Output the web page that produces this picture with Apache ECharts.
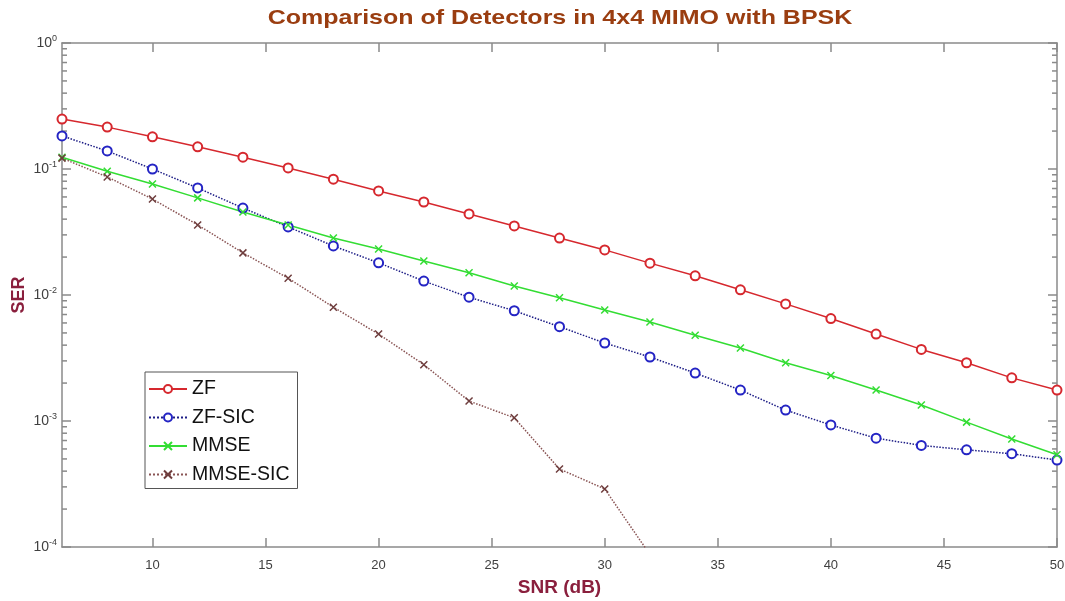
<!DOCTYPE html>
<html>
<head>
<meta charset="utf-8">
<title>Comparison of Detectors</title>
<script src="https://cdn.jsdelivr.net/npm/echarts@6/dist/echarts.min.js"></script>
<style>
    html, body { margin: 0; padding: 0; background: #fff; }
    #chart { width: 1065px; height: 601px; }
</style>
</head>
<body>
<div id="chart"></div>
<script>
// SNR (dB) points
const snr = [6, 8, 10, 12, 14, 16, 18, 20, 22, 24, 26, 28, 30, 32, 34, 36, 38, 40, 42, 44, 46, 48, 50];

// SER values
const zf = [0.249, 0.215, 0.18, 0.15, 0.124, 0.102, 0.083, 0.067, 0.0547, 0.044, 0.0353, 0.0283, 0.0228,
    0.0179, 0.0142, 0.011, 0.0085, 0.0065, 0.0049, 0.0037, 0.0029, 0.0022, 0.00176];
const zfSic = [0.183, 0.139, 0.1, 0.0707, 0.049, 0.0347, 0.0245, 0.018, 0.0129, 0.0096, 0.0075, 0.0056, 0.00416,
    0.00322, 0.0024, 0.00176, 0.00122, 0.00093, 0.00073, 0.00064, 0.00059, 0.00055, 0.00049];
const mmse = [0.124, 0.096, 0.076, 0.059, 0.0456, 0.036, 0.0283, 0.0232, 0.0186, 0.015, 0.0118, 0.0095, 0.0076,
    0.0061, 0.0048, 0.0038, 0.0029, 0.0023, 0.00176, 0.00134, 0.00098, 0.00072, 0.00054];
const mmseSic = [0.122, 0.0865, 0.0578, 0.036, 0.0216, 0.0136, 0.008, 0.0049, 0.0028, 0.00144, 0.00106, 0.000416,
    0.000289, 0.000087];

// axis ticks
const xTicks = [10, 15, 20, 25, 30, 35, 40, 45, 50];
const yTicks = [1e-4, 1e-3, 1e-2, 1e-1, 1];
const yMinorTicks = [];
[1e-4, 1e-3, 1e-2, 1e-1].forEach(function (d) {
    for (let k = 2; k <= 9; k++) yMinorTicks.push(d * k);
});

const FONT = "'Liberation Sans', Arial, Helvetica, sans-serif";
const AXIS_COLOR = "#8a8a8a";
const NAME_COLOR = "#8a1f3d";

function pairs(ys) {
    return ys.map(function (v, i) { return [snr[i], v]; });
}

const crossPath = "path://M0,0L10,10M10,0L0,10";

const myChart = echarts.init(document.getElementById("chart"));

function xAxisCfg(pos) {
    return {
        type: "value",
        position: pos,
        min: 6,
        max: 50,
        axisLine: { show: true, lineStyle: { color: AXIS_COLOR, width: 1.5 } },
        axisTick: { show: true, inside: true, length: 9, customValues: xTicks, lineStyle: { color: AXIS_COLOR, width: 1.5 } },
        axisLabel: {
            show: pos === "bottom",
            customValues: xTicks,
            color: "#404040",
            fontSize: 13,
            fontFamily: FONT,
            margin: 12
        },
        splitLine: { show: false }
    };
}

function yAxisCfg(pos) {
    return {
        type: "log",
        logBase: 10,
        position: pos,
        min: yTicks[0],
        max: yTicks[yTicks.length - 1],
        interval: 1,
        axisLine: { show: true, lineStyle: { color: AXIS_COLOR, width: 1.5 } },
        axisTick: { show: true, inside: true, length: 9, lineStyle: { color: AXIS_COLOR, width: 1.5 } },
        axisLabel: {
            show: pos === "left",
            margin: 5,
            formatter: function (v) {
                return "{b|10}{s|" + Math.round(Math.log10(v)) + "}";
            },
            rich: {
                b: { fontSize: 14, color: "#404040", fontFamily: FONT },
                s: { fontSize: 9, color: "#404040", fontFamily: FONT, padding: [0, 0, 8, 0] }
            }
        },
        splitLine: { show: false }
    };
}

let option = {
    animation: false,
    backgroundColor: "#fff",
    grid: { left: 62, right: 8, top: 43, bottom: 54, outerBoundsMode: "none", containLabel: false },
    graphic: [{
        type: "text",
        x: 560,
        y: 8,
        scaleX: 1.19,
        style: {
            text: "Comparison of Detectors in 4x4 MIMO with BPSK",
            font: "bold 21px " + FONT,
            fill: "#9a3d10",
            textAlign: "center",
            textVerticalAlign: "top"
        }
    }],
    legend: {
        orient: "vertical",
        left: 145,
        top: 372,
        data: ["ZF", "ZF-SIC", "MMSE", "MMSE-SIC"],
        itemWidth: 38,
        itemHeight: 10,
        itemGap: 8.5,
        padding: [7, 8, 4, 3],
        backgroundColor: "#fff",
        borderColor: "#555",
        borderWidth: 1,
        borderRadius: 0,
        textStyle: { fontSize: 19.5, color: "#111", fontFamily: FONT }
    },
    xAxis: [
        Object.assign(xAxisCfg("bottom"), {
            name: "SNR (dB)",
            nameLocation: "middle",
            nameGap: 31,
            nameMoveOverlap: false,
            nameTextStyle: { fontSize: 19, fontWeight: "bold", color: NAME_COLOR, fontFamily: FONT }
        }),
        xAxisCfg("top")
    ],
    yAxis: [
        Object.assign(yAxisCfg("left"), {
            name: "SER",
            nameLocation: "middle",
            nameGap: 34,
            nameRotate: 90,
            nameMoveOverlap: false,
            nameTextStyle: { fontSize: 18, fontWeight: "bold", color: NAME_COLOR, fontFamily: FONT }
        }),
        yAxisCfg("right")
    ],
    series: [
        {
            name: "ZF",
            type: "line",
            data: pairs(zf),
            symbol: "emptyCircle",
            symbolSize: 9,
            showAllSymbol: true,
            lineStyle: { color: "#d6282e", width: 1.5 },
            itemStyle: { color: "#d6282e", borderColor: "#d6282e", borderWidth: 1.5 }
        },
        {
            name: "ZF-SIC",
            type: "line",
            data: pairs(zfSic),
            symbol: "emptyCircle",
            symbolSize: 9,
            showAllSymbol: true,
            lineStyle: { color: "#1d1d86", width: 1.5, type: "dotted" },
            itemStyle: { color: "#2424c4", borderColor: "#2424c4", borderWidth: 1.5 }
        },
        {
            name: "MMSE",
            type: "line",
            data: pairs(mmse),
            symbol: crossPath,
            symbolSize: 7,
            showAllSymbol: true,
            lineStyle: { color: "#33dd33", width: 1.5 },
            itemStyle: { color: "#33dd33", borderColor: "#33dd33", borderWidth: 1.5 }
        },
        {
            name: "MMSE-SIC",
            type: "line",
            data: pairs(mmseSic),
            symbol: crossPath,
            symbolSize: 7,
            showAllSymbol: true,
            clip: true,
            lineStyle: { color: "#8a5555", width: 1.5, type: "dotted" },
            itemStyle: { color: "#6e3d3d", borderColor: "#6e3d3d", borderWidth: 1.5 }
        },
        {
            // minor log ticks on the left and right frame
            type: "custom",
            silent: true,
            data: yMinorTicks.map(function (v) { return [6, v]; }),
            encode: { x: 0, y: 1 },
            renderItem: function (params, api) {
                const v = api.value(1);
                const pl = api.coord([6, v]);
                const pr = api.coord([50, v]);
                const st = { stroke: AXIS_COLOR, lineWidth: 1.5 };
                return {
                    type: "group",
                    children: [
                        { type: "line", shape: { x1: pl[0], y1: pl[1], x2: pl[0] + 5, y2: pl[1] }, style: st },
                        { type: "line", shape: { x1: pr[0] - 5, y1: pr[1], x2: pr[0], y2: pr[1] }, style: st }
                    ]
                };
            }
        }
    ]
};

myChart.setOption(option);
</script>
</body>
</html>
